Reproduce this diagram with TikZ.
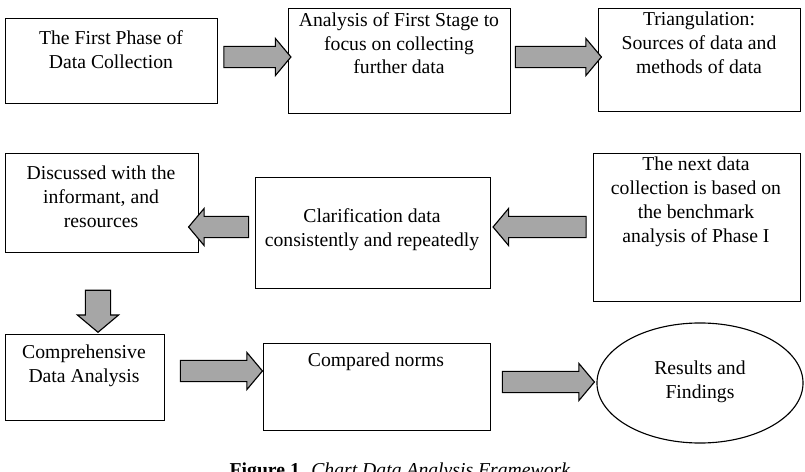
\documentclass[tikz,border=0pt]{standalone}
\usepackage{fontspec}
\setmainfont{Liberation Serif}
\usetikzlibrary{shapes.arrows,shapes.geometric}
\begin{document}
\begin{tikzpicture}[x=0.025cm,y=-0.025cm,
  box/.style={draw, thick, anchor=north west, inner sep=0pt},
  txt/.style={align=center, font=\fontsize{14}{17}\selectfont, anchor=north, inner sep=0pt},
  blk/.style={single arrow, draw, thick, fill=gray!70, minimum height=#1, inner xsep=0pt, inner ysep=0.25cm, single arrow head extend=0.2cm, single arrow tip angle=100}]
\useasboundingbox (0,0) rectangle (805,472);
\clip (0,0) rectangle (805,472);
% Boxes
\node[box, minimum width=5.3cm, minimum height=2.125cm] (b1) at (5,18) {};
\node[box, minimum width=5.55cm, minimum height=2.625cm] (b2) at (288,8) {};
\node[box, minimum width=5.05cm, minimum height=2.575cm] (b3) at (598,8) {};
\node[box, minimum width=4.825cm, minimum height=2.475cm] (b4) at (5,153) {};
\node[box, minimum width=5.875cm, minimum height=2.775cm] (b5) at (255,177) {};
\node[box, minimum width=5.175cm, minimum height=3.7cm] (b6) at (593,153) {};
\node[box, minimum width=3.975cm, minimum height=2.15cm] (b7) at (5,334) {};
\node[box, minimum width=5.675cm, minimum height=2.175cm] (b8) at (263,343) {};
\node[ellipse, draw, thick, minimum width=5.15cm, minimum height=3.0cm] (e1) at (700,383) {};
% Texts
\node[txt] (t1) at (111,30) {The First Phase of\\Data Collection};
\node[txt] (t2) at (399,12) {Analysis of First Stage to\\focus on collecting\\further data};
\node[txt] (t3) at (699,12) {Triangulation:\\Sources of data and\\methods of data};
\node[txt] (t4) at (101,166) {Discussed with the\\informant, and\\resources};
\node[txt] (t5) at (372,208) {Clarification data\\consistently and repeatedly};
\node[txt] (t6) at (696,157) {The next data\\collection is based on\\the benchmark\\analysis of Phase I};
\node[txt] (t7) at (84,345) {Comprehensive\\Data Analysis};
\node[txt] (t8) at (376,353) {Compared norms};
\node[txt] (t9) at (700,361) {Results and\\Findings};
% Block arrows
\node[blk=1.675cm] (a1) at (253,57) {};
\node[blk=2.15cm] (a2) at (554,57) {};
\node[blk=2.325cm, shape border rotate=180] (a3) at (544,227) {};
\node[blk=1.5cm, shape border rotate=180] (a4) at (223,227) {};
\node[blk=1.05cm, rotate=-90, inner ysep=0.3cm] (a5) at (98,306) {};
\node[blk=2.05cm] (a6) at (217,371) {};
\node[blk=2.3cm] (a7) at (544,382) {};
% Caption
\node[font=\fontsize{14}{16}\selectfont, anchor=base] (cap) at (400,477) {\textbf{Figure 1.} \textit{Chart Data Analysis Framework}};
\end{tikzpicture}
\end{document}
